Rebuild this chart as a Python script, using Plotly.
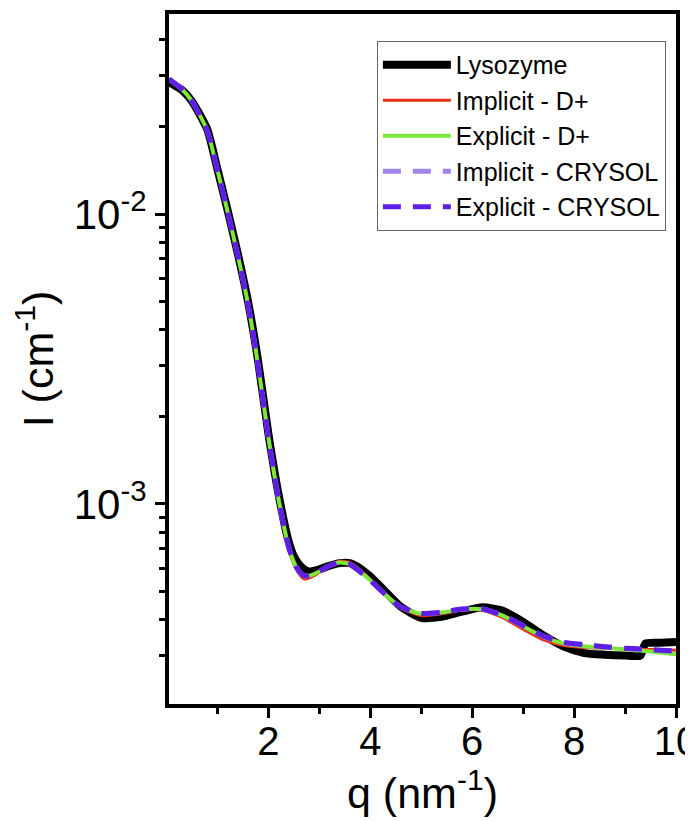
import plotly.graph_objects as go

# q (nm^-1)
q = [0.05, 0.3, 0.5, 0.8, 1.0, 1.2, 1.4, 1.6, 1.8, 2.0, 2.2, 2.4, 2.5, 2.6, 2.7, 2.8,
     3.0, 3.2, 3.4, 3.6, 3.8, 4.0, 4.3, 4.6, 5.0, 5.4, 5.8, 6.2, 6.6, 7.0, 7.4, 7.8,
     8.2, 8.6, 9.0, 9.3, 9.4, 9.7, 10.0]

lysozyme = [0.0285, 0.0268, 0.0245, 0.0196, 0.0143, 0.0103, 0.0073, 0.0050, 0.0031, 0.00175,
            0.00108, 0.00074, 0.00066, 0.00062, 0.000595, 0.000585, 0.000595, 0.000612,
            0.000625, 0.000625, 0.000600, 0.000562, 0.000498, 0.000442, 0.000405, 0.000408,
            0.000425, 0.000440, 0.000428, 0.000392, 0.000352, 0.000322, 0.000306, 0.000302,
            0.000300, 0.000300, 0.000330, 0.000332, 0.000334]

implicit_dplus = [0.0292, 0.0270, 0.0245, 0.0194, 0.0142, 0.0102, 0.0072, 0.0049, 0.0030, 0.00170,
                  0.00103, 0.00070, 0.00062, 0.000575, 0.000552, 0.000555, 0.000580, 0.000615,
                  0.000635, 0.000628, 0.000592, 0.000550, 0.000490, 0.000438, 0.000412, 0.000418,
                  0.000430, 0.000430, 0.000405, 0.000370, 0.000340, 0.000325, 0.000320, 0.000318,
                  0.000316, 0.000315, 0.000315, 0.000314, 0.000313]

explicit_dplus = [0.0292, 0.0270, 0.0245, 0.0194, 0.0142, 0.0102, 0.0072, 0.0049, 0.0030, 0.00170,
                  0.00104, 0.00071, 0.00063, 0.000585, 0.000565, 0.000565, 0.000585, 0.000612,
                  0.000628, 0.000620, 0.000585, 0.000545, 0.000485, 0.000440, 0.000418, 0.000422,
                  0.000433, 0.000433, 0.000412, 0.000378, 0.000348, 0.000330, 0.000323, 0.000319,
                  0.000315, 0.000312, 0.000311, 0.000307, 0.000303]

implicit_crysol = [0.0292, 0.0270, 0.0245, 0.0194, 0.0142, 0.0102, 0.0072, 0.0049, 0.0030, 0.00170,
                   0.00104, 0.00071, 0.00063, 0.000586, 0.000566, 0.000566, 0.000586, 0.000612,
                   0.000627, 0.000619, 0.000584, 0.000545, 0.000486, 0.000441, 0.000419, 0.000423,
                   0.000434, 0.000434, 0.000413, 0.000380, 0.000350, 0.000332, 0.000326, 0.000321,
                   0.000317, 0.000315, 0.000314, 0.000312, 0.000310]

explicit_crysol = [0.0292, 0.0270, 0.0245, 0.0194, 0.0142, 0.0102, 0.0072, 0.0049, 0.0030, 0.00170,
                   0.00104, 0.00071, 0.00063, 0.000586, 0.000566, 0.000566, 0.000586, 0.000612,
                   0.000627, 0.000619, 0.000584, 0.000545, 0.000486, 0.000441, 0.000419, 0.000423,
                   0.000434, 0.000434, 0.000413, 0.000380, 0.000350, 0.000333, 0.000327, 0.000322,
                   0.000318, 0.000316, 0.000315, 0.000313, 0.000311]

series = [
    ("Lysozyme", lysozyme, "#000000", 8, "solid"),
    ("Implicit - D+", implicit_dplus, "#E8301C", 3, "solid"),
    ("Explicit - D+", explicit_dplus, "#7EE83A", 4, "solid"),
    ("Implicit - CRYSOL", implicit_crysol, "#A084E8", 5, "18px,12px"),
    ("Explicit - CRYSOL", explicit_crysol, "#5E1EE6", 5, "18px,12px"),
]

y_major = [0.001, 0.01]
y_major_text = ["10<sup>-3</sup>", "10<sup>-2</sup>"]
y_minor = [2e-4, 3e-4, 4e-4, 5e-4, 6e-4, 7e-4, 8e-4, 9e-4,
           2e-3, 3e-3, 4e-3, 5e-3, 6e-3, 7e-3, 8e-3, 9e-3,
           2e-2, 3e-2, 4e-2]
x_major = [2, 4, 6, 8, 10]
x_minor = [1, 3, 5, 7, 9]

fig = go.Figure()
for name, vals, color, width, dash in series:
    fig.add_trace(go.Scatter(
        x=q, y=vals, mode="lines", name=name,
        line=dict(color=color, width=width, dash=dash, shape="spline", smoothing=0.6),
    ))

font_family = "Liberation Sans, Arial, Helvetica, sans-serif"

fig.update_layout(
    width=693, height=821,
    margin=dict(l=161, r=25, t=2, b=125),
    paper_bgcolor="white", plot_bgcolor="white",
    font=dict(family=font_family, color="black"),
    showlegend=True,
    legend=dict(
        x=0.98, xanchor="right", y=0.961, yanchor="top",
        bgcolor="white", bordercolor="#666666", borderwidth=1,
        font=dict(size=25, family=font_family, color="black"),
        tracegroupgap=0, itemwidth=68,
    ),
    xaxis=dict(
        range=[0.05, 10],
        tickvals=x_major, ticktext=[str(v) for v in x_major],
        ticks="outside", ticklen=10, tickwidth=3, tickcolor="black",
        ticklabelstandoff=-11,
        minor=dict(tickvals=x_minor, ticks="outside", ticklen=6, tickwidth=3, tickcolor="black"),
        showline=True, linewidth=4, linecolor="black", mirror=True,
        showgrid=False, zeroline=False,
        tickfont=dict(size=40, family=font_family),
        title=dict(text="q (nm<sup>-1</sup>)", font=dict(size=43, family=font_family), standoff=0),
    ),
    yaxis=dict(
        type="log", range=[-3.69, -1.31],
        tickvals=y_major, ticktext=y_major_text,
        ticks="outside", ticklen=10, tickwidth=3, tickcolor="black",
        minor=dict(tickvals=y_minor, ticks="outside", ticklen=6, tickwidth=3, tickcolor="black"),
        showline=True, linewidth=4, linecolor="black", mirror=True,
        showgrid=False, zeroline=False,
        tickfont=dict(size=42, family=font_family),
        title=dict(text="I (cm<sup>-1</sup>)", font=dict(size=43, family=font_family), standoff=26),
    ),
)

fig.write_html("out.html")
